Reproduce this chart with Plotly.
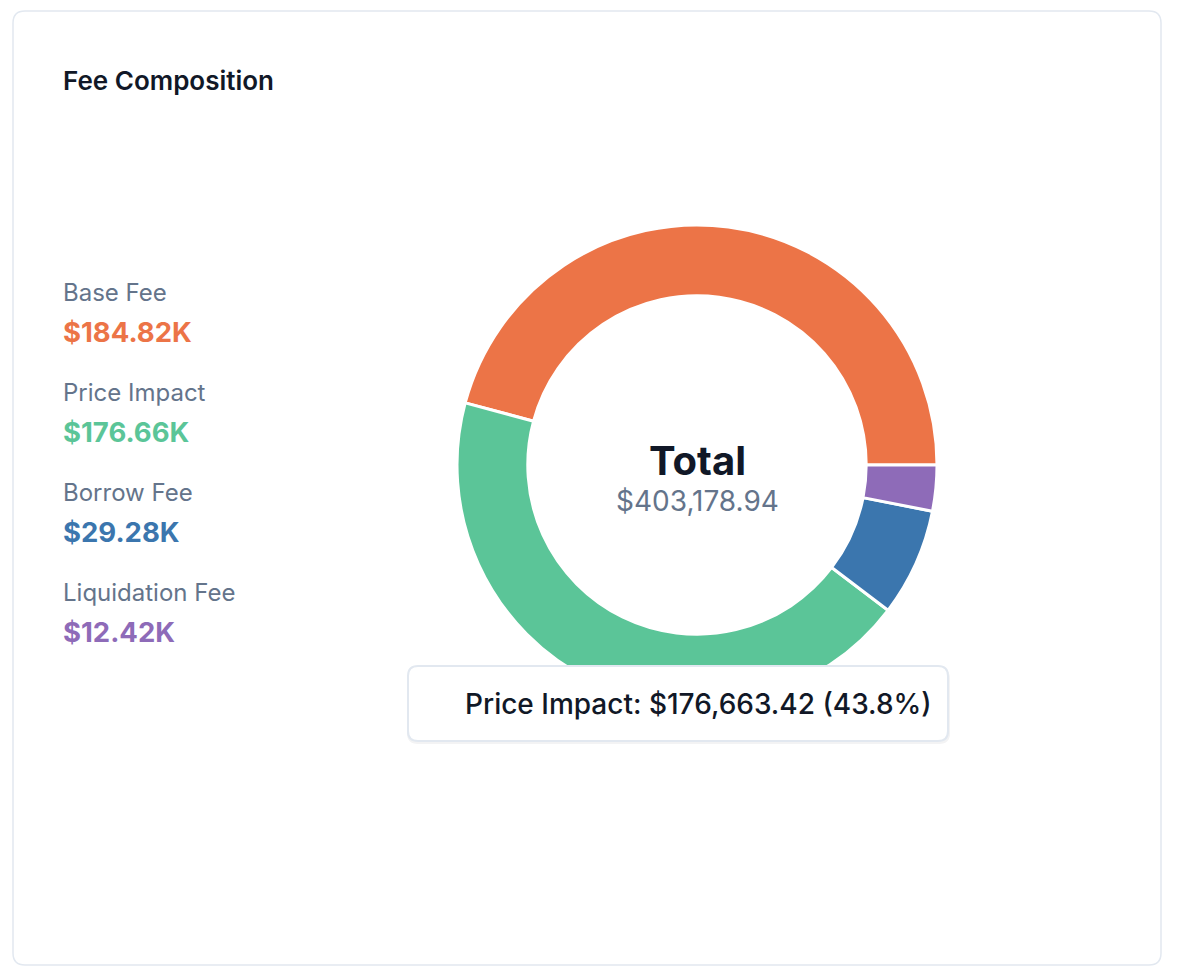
import plotly.graph_objects as go

# fee breakdown
labels = ["Base Fee", "Price Impact", "Borrow Fee", "Liquidation Fee"]
values = [184820.00, 176663.42, 29280.00, 12415.52]
colors = ["#EC7447", "#5BC598", "#3B76AE", "#8E6BB8"]
hover_label = "Price Impact"

total = sum(values)

W, H = 1162, 962   # figure size, page adds 8px body margin
OFF = 8


def px(x):
    return (x - OFF) / W


def py(y):
    return 1 - (y - OFF) / H


def rounded_rect(x0, y0, x1, y1, r):
    # rounded rectangle path in paper coords, from page pixel values
    pts = [
        f"M {px(x0 + r)},{py(y0)}",
        f"L {px(x1 - r)},{py(y0)}",
        f"Q {px(x1)},{py(y0)} {px(x1)},{py(y0 + r)}",
        f"L {px(x1)},{py(y1 - r)}",
        f"Q {px(x1)},{py(y1)} {px(x1 - r)},{py(y1)}",
        f"L {px(x0 + r)},{py(y1)}",
        f"Q {px(x0)},{py(y1)} {px(x0)},{py(y1 - r)}",
        f"L {px(x0)},{py(y0 + r)}",
        f"Q {px(x0)},{py(y0)} {px(x0 + r)},{py(y0)}",
        "Z",
    ]
    return " ".join(pts)


FONT = "Inter, Roboto, sans-serif"
DARK = "#111827"
SLATE = "#64748B"

# donut: center (697,465), radius 240 on the page
cx, cy, R = 697, 465, 240
fig = go.Figure(go.Pie(
    labels=labels,
    values=values,
    marker=dict(colors=colors, line=dict(color="white", width=3)),
    hole=0.705,
    sort=False,
    direction="counterclockwise",
    rotation=-75,   # plotly ends the first slice at rotation when ccw
    textinfo="none",
    hoverinfo="none",
    showlegend=False,
    domain=dict(x=[px(cx - R), px(cx + R)], y=[py(cy + R), py(cy - R)]),
))

shapes = [
    dict(type="path", xref="paper", yref="paper",
         path=rounded_rect(13, 11, 1161, 965, 12),
         line=dict(color="#E2E8F0", width=1.5), fillcolor="rgba(0,0,0,0)", layer="below"),
    # tooltip shadow + box
    dict(type="path", xref="paper", yref="paper",
         path=rounded_rect(407, 668, 950, 744, 11),
         line=dict(width=0), fillcolor="rgba(15,23,42,0.05)", layer="above"),
    dict(type="path", xref="paper", yref="paper",
         path=rounded_rect(408, 666, 948, 741, 10),
         line=dict(color="#E2E8F0", width=2), fillcolor="white", layer="above"),
]

annotations = [
    dict(text="Fee Composition", x=px(61), y=py(80),
         font=dict(size=26, color=DARK, family=FONT, weight=600)),
    dict(text="Total", x=px(cx), y=py(460), xanchor="center",
         font=dict(size=40, color=DARK, family=FONT, weight=700)),
    dict(text=f"${total:,.2f}", x=px(cx), y=py(501), xanchor="center",
         font=dict(size=28, color=SLATE, family=FONT)),
]

for i, (lab, val, col) in enumerate(zip(labels, values, colors)):
    y0 = 292 + i * 100
    annotations.append(dict(text=lab, x=px(61), y=py(y0),
                            font=dict(size=24, color=SLATE, family=FONT)))
    annotations.append(dict(text=f"${val / 1000:.2f}K", x=px(61), y=py(y0 + 40),
                            font=dict(size=27.5, color=col, family=FONT, weight=700)))

hv = values[labels.index(hover_label)]
annotations.append(dict(text=f"{hover_label}: ${hv:,.2f} ({hv / total * 100:.1f}%)",
                        x=px(698), y=py(704), xanchor="center",
                        font=dict(size=28, color=DARK, family=FONT, weight=500)))

for a in annotations:
    a.setdefault("xanchor", "left")
    a["yanchor"] = "middle"
    a["showarrow"] = False
    a["xref"] = "paper"
    a["yref"] = "paper"

fig.update_layout(
    width=W, height=H,
    margin=dict(l=0, r=0, t=0, b=0),
    paper_bgcolor="white",
    plot_bgcolor="white",
    shapes=shapes,
    annotations=annotations,
)

fig.write_html("out.html")
